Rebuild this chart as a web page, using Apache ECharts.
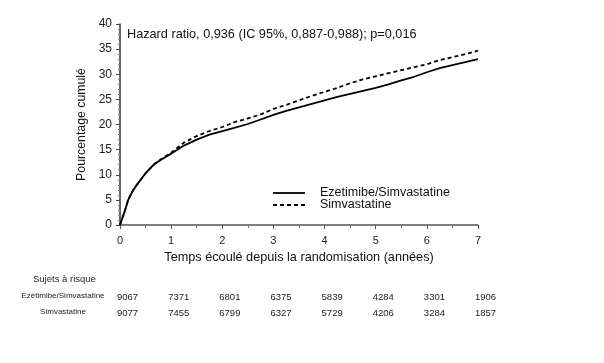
<!DOCTYPE html>
<html><head><meta charset="utf-8">
<script src="https://cdn.jsdelivr.net/npm/echarts@6/dist/echarts.min.js"></script>
<style>html,body{margin:0;padding:0;background:#fff}#c{width:604px;height:363px}</style>
</head><body><div id="c"></div>
<script>
const years = [0,0.05,0.1,0.16,0.25,0.33,0.5,0.68,0.85,1.0,1.25,1.5,1.75,2.0,2.25,2.5,2.75,3.0,3.25,3.5,3.75,4.0,4.25,4.5,4.75,5.0,5.25,5.5,5.75,6.0,6.25,6.5,6.75,7.0];
const ezeSimva = [0,1.5,3,5,6.8,8,10.3,12.2,13.3,14.2,15.8,17.0,18.0,18.7,19.4,20.1,21.0,21.9,22.7,23.4,24.1,24.8,25.5,26.1,26.7,27.3,28.0,28.8,29.5,30.4,31.2,31.8,32.4,33.0];
const simva = [0,1.5,3,5,6.8,8,10.3,12.2,13.4,14.4,16.4,17.7,18.7,19.5,20.5,21.2,22.0,23.1,23.9,24.8,25.7,26.5,27.3,28.2,29.0,29.6,30.2,30.8,31.4,32.0,32.8,33.4,34.0,34.7];
const riskYears = [0,1,2,3,4,5,6,7];
const riskEze = [9067,7371,6801,6375,5839,4284,3301,1906];
const riskSimva = [9077,7455,6799,6327,5729,4206,3284,1857];
const seriesNames = ['Ezetimibe/Simvastatine','Simvastatine'];
const riskLabels = ['Ezétimibe/Simvastatine','Simvastatine'];

const chart = echarts.init(document.getElementById('c'));
const font = 'Liberation Sans, Arial, sans-serif';
const txt = '#222';
const GRID = {left:120, right:126, top:24, bottom:138};

function build() {
  const g = [
    {type:'text', left:33, top:274, style:{text:'Sujets à risque', font:'9.5px '+font, fill:txt}},
    {type:'text', left:127, top:28, style:{text:'Hazard ratio, 0,936 (IC 95%, 0,887-0,988); p=0,016', font:'12.7px '+font, fill:'#111'}}
  ];
  // legend keys
  const legY = [193, 205];
  seriesNames.forEach((n, i) => {
    g.push({type:'line', shape:{x1:273, y1:legY[i], x2:305, y2:legY[i]},
      style:{stroke:'#000', lineWidth:1.8, lineDash: i === 1 ? [4,3] : null}});
    g.push({type:'text', x:320, y:legY[i], style:{text:n, font:'12.5px '+font, fill:'#111', verticalAlign:'middle'}});
  });
  [riskEze, riskSimva].forEach((row, r) => {
    const y = 292 + r*16;
    g.push({type:'text', x:63, y:y, style:{text:riskLabels[r], font:'8px '+font, fill:txt, align:'center', verticalAlign:'top'}});
    row.forEach((v, i) => {
      const px = chart.convertToPixel({gridIndex:0}, [riskYears[i], 0])[0];
      g.push({type:'text', x:px - 3, y:y, style:{text:String(v), font:'9.5px '+font, fill:txt, align:'left', verticalAlign:'top'}});
    });
  });
  return g;
}

chart.setOption({
  animation:false,
  backgroundColor:'#fff',
  grid:GRID,
  xAxis:{
    type:'value', min:0, max:7, interval:1,
    name:'Temps écoulé depuis la randomisation (années)', nameLocation:'middle', nameGap:25,
    nameTextStyle:{fontFamily:font, fontSize:12.7, color:'#111'},
    axisLine:{lineStyle:{color:'#555', width:1.5}},
    axisTick:{show:true, length:4, lineStyle:{color:'#555'}},
    minorTick:{show:true, splitNumber:2, length:3, lineStyle:{color:'#777'}},
    axisLabel:{fontFamily:font, fontSize:11, color:'#222', margin:10},
    splitLine:{show:false}
  },
  yAxis:{
    type:'value', min:0, max:40, interval:5,
    name:'Pourcentage cumulé', nameLocation:'middle', nameGap:26, nameRotate:90,
    nameTextStyle:{fontFamily:font, fontSize:12.3, color:'#111'},
    axisLine:{show:true, lineStyle:{color:'#333', width:1.5}},
    axisTick:{show:true, length:4, lineStyle:{color:'#444'}},
    minorTick:{show:true, splitNumber:5, length:2, lineStyle:{color:'#888'}},
    axisLabel:{fontFamily:font, fontSize:12, color:'#222', margin:8},
    splitLine:{show:false}
  },
  series:[
    {name:seriesNames[0], type:'line', showSymbol:false, symbol:'none', color:'#000',
     data: years.map((x,i)=>[x, ezeSimva[i]]), lineStyle:{color:'#000', width:1.8}, z:3},
    {name:seriesNames[1], type:'line', showSymbol:false, symbol:'none', color:'#000',
     data: years.map((x,i)=>[x, simva[i]]), lineStyle:{color:'#000', width:1.8, type:[4,3]}, z:2}
  ]
});
chart.setOption({graphic: build()});
</script></body></html>
